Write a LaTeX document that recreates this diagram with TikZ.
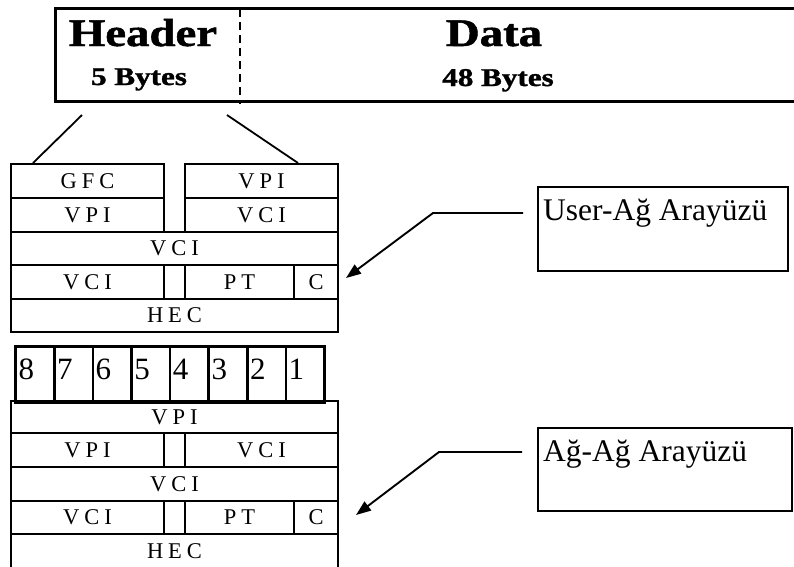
\documentclass[tikz,border=0pt]{standalone}
\usepackage{fontspec}
\setmainfont{Liberation Serif}
\newfontfamily\heavyserif[FakeBold=1.2]{Liberation Serif Bold}
\usepackage{graphicx}
\usetikzlibrary{arrows.meta}

% letter spacing inside the field names
\newcommand\lsp{\kern5pt\relax}
% one rectangular field of the cell header: name, x1, y1, x2, y2, text
\newcommand\fieldcell[6]{%
  \node[cell,minimum width={#4-#2},minimum height={#5-#3}] (#1)
    at ({(#2+#4)/2},{(#3+#5)/2}) {#6};}
% one bit-number cell: name, left x, digit
\newcommand\bitcell[3]{%
  \node[numcell,minimum width=38.6,minimum height=56,anchor=north west] (#1) at (#2,345) {};
  \node[digit] (#1d) at ({#2+4},379) {#3};}

\begin{document}
\begin{tikzpicture}[x=1pt,y=-1pt,
  frame/.style={draw,line width=2.6pt,inner sep=0pt},
  cell/.style={draw,line width=1.8pt,inner sep=0pt,font=\fontsize{22.5}{26}\selectfont},
  numcell/.style={draw,line width=2.7pt,inner sep=0pt},
  digit/.style={anchor=base west,inner sep=0pt,font=\fontsize{31}{36}\selectfont},
  bigtitle/.style={anchor=base,inner sep=0pt,font=\fontsize{39}{44}\heavyserif},
  subtitle/.style={anchor=base,inner sep=0pt,font=\fontsize{25.5}{30}\heavyserif},
  labelbox/.style={draw,line width=2pt,inner sep=0pt},
  labeltext/.style={anchor=base west,inner sep=0pt,font=\fontsize{31.5}{36}\selectfont},
  link/.style={line width=1.8pt},
  ptr/.style={line width=1.9pt,-{Triangle[length=15pt,width=11pt]}}
]
\useasboundingbox (0,0) rectangle (794,566);
\clip (0,0) rectangle (794,566);
\fill[white] (0,0) rectangle (794,566);

% ATM cell: header and payload
\node[frame,minimum width=760,minimum height=93,anchor=north west] (atmcell) at (54,7) {};
\coordinate (splittop) at (240,9);
\coordinate (splitbot) at (240,104);
\draw[line width=2.6pt,dash pattern=on 8pt off 5pt] (splittop) -- (splitbot);
\node[bigtitle] (hdr) at (143,46) {\scalebox{1.2}[1]{Header}};
\node[subtitle] (hdrsize) at (139,85) {\scalebox{1.22}[1]{5 Bytes}};
\node[bigtitle] (dat) at (494,46) {\scalebox{1.2}[1]{Data}};
\node[subtitle] (datsize) at (498,86) {\scalebox{1.22}[1]{48 Bytes}};

% UNI header layout
\fieldcell{u1a}{11}{164}{164}{198}{G\lsp F\lsp C}
\fieldcell{u1b}{185}{164}{338}{198}{V\lsp P\lsp I}
\fieldcell{u2a}{11}{198}{164}{232}{V\lsp P\lsp I}
\fieldcell{u2b}{185}{198}{338}{232}{V\lsp C\lsp I}
\fieldcell{u3}{11}{232}{338}{265}{V\lsp C\lsp I}
\fieldcell{u4a}{11}{265}{164}{299}{V\lsp C\lsp I}
\fieldcell{u4g}{164}{265}{185}{299}{}
\fieldcell{u4b}{185}{265}{294}{299}{P\lsp T}
\fieldcell{u4c}{294}{265}{338}{299}{C}
\fieldcell{u5}{11}{299}{338}{332}{H\lsp E\lsp C}

% header expands into the field layout
\coordinate (hl1) at (82,115);
\coordinate (hl2) at (33,163);
\coordinate (hr1) at (227,115);
\coordinate (hr2) at (298,163);
\draw[link] (hl1) -- (hl2);
\draw[link] (hr1) -- (hr2);

% bit numbers
\bitcell{b8}{14.3}{8}
\bitcell{b7}{52.9}{7}
\bitcell{b6}{91.5}{6}
\bitcell{b5}{130.1}{5}
\bitcell{b4}{168.7}{4}
\bitcell{b3}{207.3}{3}
\bitcell{b2}{245.9}{2}
\bitcell{b1}{284.5}{1}

% NNI header layout
\fieldcell{n1}{11}{401}{338}{433}{V\lsp P\lsp I}
\fieldcell{n2a}{11}{433}{164}{467}{V\lsp P\lsp I}
\fieldcell{n2g}{164}{433}{185}{467}{}
\fieldcell{n2b}{185}{433}{338}{467}{V\lsp C\lsp I}
\fieldcell{n3}{11}{467}{338}{501}{V\lsp C\lsp I}
\fieldcell{n4a}{11}{501}{164}{534}{V\lsp C\lsp I}
\fieldcell{n4g}{164}{501}{185}{534}{}
\fieldcell{n4b}{185}{501}{294}{534}{P\lsp T}
\fieldcell{n4c}{294}{501}{338}{534}{C}
\fieldcell{n5}{11}{534}{338}{568}{H\lsp E\lsp C}

% interface labels
\node[labelbox,minimum width=250,minimum height=84,anchor=north west] (unibox) at (537,186) {};
\node[labeltext] (unitext) at (543,220) {User-Ağ Arayüzü};
\node[labelbox,minimum width=254,minimum height=83,anchor=north west] (nnibox) at (537,427) {};
\node[labeltext] (nnitext) at (543,461) {Ağ-Ağ Arayüzü};

\coordinate (ua) at (523,213);
\coordinate (ub) at (433,213);
\coordinate (uc) at (346,278);
\draw[ptr] (ua) -- (ub) -- (uc);
\coordinate (na) at (522,452);
\coordinate (nb) at (439,452);
\coordinate (nc) at (356,515);
\draw[ptr] (na) -- (nb) -- (nc);
\end{tikzpicture}
\end{document}
